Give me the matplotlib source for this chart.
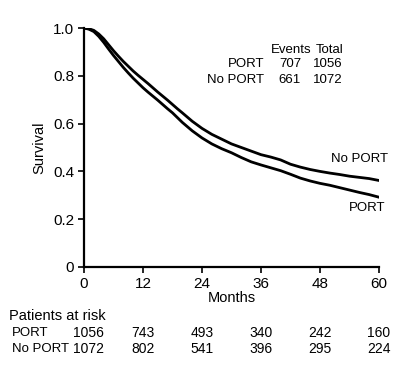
import matplotlib
matplotlib.use('Agg')
import matplotlib.pyplot as plt
import matplotlib.transforms as mtransforms

plt.rcParams['font.family'] = ['Liberation Sans', 'DejaVu Sans']

# Kaplan-Meier curves
months = [0, 1, 2, 3, 4, 5, 6, 7, 8, 9, 10, 11, 12, 13, 14, 15, 16, 17, 18, 19, 20,
          22, 24, 26, 28, 30, 32, 34, 36, 38, 40, 42, 44, 46, 48, 50, 52, 54, 56, 58, 60]
no_port = [1.0, 0.997, 0.99, 0.975, 0.955, 0.93, 0.905, 0.882, 0.86, 0.84, 0.82, 0.802, 0.785,
           0.768, 0.75, 0.732, 0.715, 0.698, 0.68, 0.662, 0.645, 0.61, 0.58, 0.555, 0.535,
           0.515, 0.50, 0.485, 0.47, 0.46, 0.448, 0.43, 0.418, 0.408, 0.40, 0.393, 0.387,
           0.38, 0.375, 0.37, 0.362]
port = [1.0, 0.995, 0.985, 0.965, 0.94, 0.912, 0.885, 0.86, 0.835, 0.812, 0.79, 0.77, 0.75,
        0.732, 0.715, 0.698, 0.68, 0.662, 0.645, 0.625, 0.605, 0.57, 0.54, 0.515, 0.495,
        0.478, 0.458, 0.44, 0.427, 0.415, 0.403, 0.388, 0.372, 0.36, 0.35, 0.342, 0.332,
        0.322, 0.312, 0.303, 0.292]

# summary table
groups = ['PORT', 'No PORT']
events = [707, 661]
totals = [1056, 1072]

# patients at risk
risk_months = [0, 12, 24, 36, 48, 60]
risk_port = [1056, 743, 493, 340, 242, 160]
risk_no_port = [1072, 802, 541, 396, 295, 224]

fig = plt.figure(figsize=(3.95, 3.66), dpi=100)
ax = fig.add_axes([84/395, 1 - 267/366, (379 - 84)/395, (267 - 28)/366])

ax.plot(months, no_port, color='black', lw=2.0, solid_joinstyle='miter')
ax.plot(months, port, color='black', lw=2.0, solid_joinstyle='miter')

ax.set_xlim(0, 60)
ax.set_ylim(0, 1.0)
ax.set_xticks(risk_months)
ax.set_yticks([0, 0.2, 0.4, 0.6, 0.8, 1.0])
ax.set_yticklabels(['0', '0.2', '0.4', '0.6', '0.8', '1.0'])
ax.tick_params(labelsize=11, length=4, width=1.2, pad=3)
for s in ['top', 'right']:
    ax.spines[s].set_visible(False)
for s in ['left', 'bottom']:
    ax.spines[s].set_linewidth(1.6)
ax.set_ylabel('Survival', fontsize=10.5, labelpad=5)
ax.set_xlabel('Months', fontsize=10.5, labelpad=0)

# events/total table
fs = 9.5
ax.text(311/395, 1 - 50/366, 'Events', transform=fig.transFigure, ha='right', va='center', fontsize=fs)
ax.text(343/395, 1 - 50/366, 'Total', transform=fig.transFigure, ha='right', va='center', fontsize=fs)
for i, g in enumerate(groups):
    y = 1 - (64 + 16 * i) / 366
    ax.text(264/395, y, g, transform=fig.transFigure, ha='right', va='center', fontsize=fs)
    ax.text(301/395, y, str(events[i]), transform=fig.transFigure, ha='right', va='center', fontsize=fs)
    ax.text(343/395, y, str(totals[i]), transform=fig.transFigure, ha='right', va='center', fontsize=fs)

# curve labels
ax.text(388/395, 1 - 159/366, 'No PORT', transform=fig.transFigure, ha='right', va='center', fontsize=fs)
ax.text(385/395, 1 - 208/366, 'PORT', transform=fig.transFigure, ha='right', va='center', fontsize=fs)

# at-risk table
trans = mtransforms.blended_transform_factory(ax.transData, fig.transFigure)
fig.text(9/395, 1 - 316/366, 'Patients at risk', ha='left', va='center', fontsize=10.5)
for label, vals, ypx in [('PORT', risk_port, 333), ('No PORT', risk_no_port, 349)]:
    fig.text(12/395, 1 - ypx/366, label, ha='left', va='center', fontsize=9.5)
    for m, v in zip(risk_months, vals):
        xo = m + 1 if m == 0 else m
        ax.text(xo, 1 - ypx/366, str(v), transform=trans, ha='center', va='center',
                fontsize=10, clip_on=False)

fig.savefig('out.png', dpi=100)
